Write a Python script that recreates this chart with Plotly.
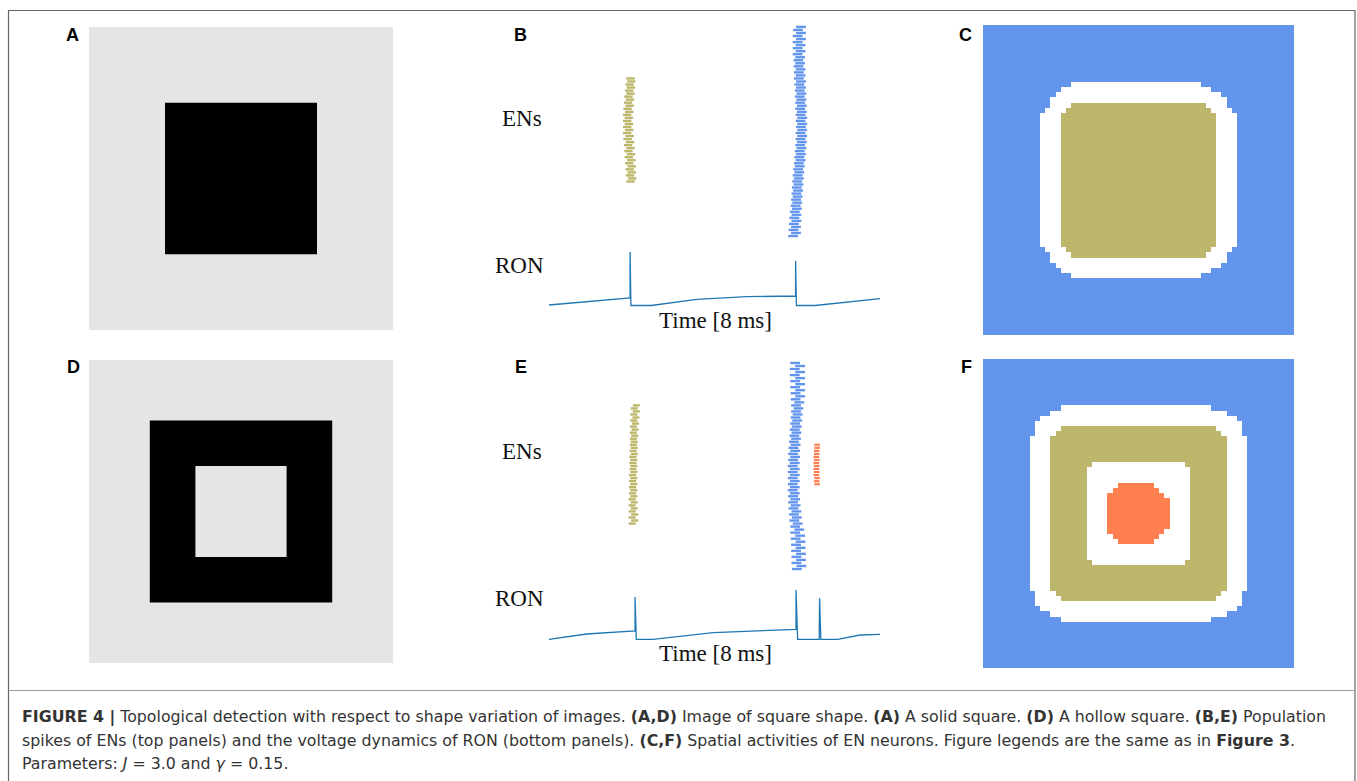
import plotly.graph_objects as go

W, H = 1357, 781

# ---------------- data ----------------
# Panels A / D : binary images in image units (0-100)
image_a_square = [25, 75]
image_d_outer = [20, 80]
image_d_inner = [35, 65]

# Panel B : EN spike raster (time in ms, one entry per neuron index)
olive_b_first = 18
olive_b_times = [1.97, 2.01, 1.96, 2.00, 1.95, 2.00, 1.94, 1.99, 1.93, 1.98,
                 1.92, 1.97, 1.91, 1.96, 1.90, 1.95, 1.89, 1.94, 1.89, 1.93,
                 1.89, 1.93, 1.89, 1.94, 1.90, 1.95, 1.91, 1.96, 1.92, 1.97,
                 1.94, 1.98, 1.95, 1.99, 1.97]
blue_b_first = 0
blue_b_times = [5.90, 5.97, 5.91, 5.97, 5.92, 5.98, 5.93, 5.98, 5.94, 5.99,
                5.96, 6.00, 5.97, 6.01, 5.98, 6.02, 5.99, 6.03, 6.00, 6.04,
                6.01, 6.05, 6.02, 6.06, 6.04, 6.08, 6.05, 6.09, 6.06, 6.10,
                6.07, 6.11, 6.08, 6.12, 6.08, 6.12, 6.09, 6.12, 6.08, 6.12,
                6.08, 6.11, 6.07, 6.11, 6.07, 6.10, 6.06, 6.10, 6.06, 6.09,
                6.05, 6.09, 6.04, 6.08, 6.04, 6.08, 6.03, 6.07, 6.03, 6.07,
                6.01, 6.08, 6.01, 6.08, 6.01, 6.09, 6.01, 6.09, 6.02, 6.09]

# Panel B : RON voltage (arbitrary units)
ron_b_t = [0.00, 1.00, 1.96, 1.96, 1.98, 2.47, 3.57, 4.78, 5.96, 5.96, 5.98, 6.43, 8.00]
ron_b_v = [1.0, 4.5, 8.0, 54.0, 0.5, 0.5, 6.7, 9.3, 10.0, 45.0, 0.5, 0.5, 7.3]

# Panel E : EN spike raster
olive_e_first = 15
olive_e_times = [2.01, 2.07, 2.01, 2.07, 2.01, 2.06, 2.01, 2.06, 2.01, 2.05,
                 2.02, 2.05, 2.02, 2.05, 2.02, 2.05, 2.02, 2.05, 2.03, 2.05,
                 2.03, 2.05, 2.03, 2.06, 2.03, 2.06, 2.04, 2.06, 2.04, 2.07,
                 2.04, 2.08, 2.04, 2.09, 2.05, 2.10, 2.05, 2.11, 2.06, 2.11]
blue_e_first = 0
blue_e_times = [5.99, 6.10, 5.98, 6.09, 5.98, 6.09, 5.97, 6.08, 5.97, 6.08,
                5.96, 6.07, 5.95, 6.05, 5.95, 6.01, 5.93, 5.99, 5.92, 5.98,
                5.91, 5.96, 5.90, 5.95, 5.90, 5.94, 5.89, 5.94, 5.89, 5.94,
                5.89, 5.94, 5.89, 5.94, 5.89, 5.94, 5.90, 5.95, 5.90, 5.95,
                5.91, 5.96, 5.92, 5.97, 5.93, 5.98, 5.94, 5.99, 5.95, 6.00,
                5.96, 6.01, 5.97, 6.03, 5.97, 6.05, 5.96, 6.07, 5.96, 6.07,
                5.95, 6.07, 5.95, 6.07, 5.94, 6.07, 5.94, 6.07, 5.95]
coral_e_first = 28
coral_e_times = [6.48, 6.47, 6.48, 6.46, 6.47, 6.46, 6.47, 6.46, 6.47, 6.46,
                 6.47, 6.47, 6.48, 6.48]

# Panel E : RON voltage
ron_e_t = [0.00, 0.91, 2.08, 2.08, 2.11, 2.51, 3.97, 5.97, 5.97, 6.01, 6.53,
           6.54, 6.57, 6.98, 7.52, 8.00]
ron_e_v = [0.7, 6.0, 9.0, 43.0, 0.7, 0.7, 7.3, 10.7, 50.0, 0.7, 0.7, 41.7,
           0.7, 0.7, 5.0, 5.7]

# Panels C / F : spatial activity maps on a 60 x 60 grid
grid_n = 60
# box = [row0, row1, col0, col1]; insets = corner cut per row from the edge
c_white_box = [11, 48, 11, 48]
c_white_left = [6, 4, 3, 2, 2, 1]
c_white_right = [7, 5, 3, 2, 2, 1]
c_olive_box = [15, 44, 15, 44]
c_olive_left = [2, 1]
c_olive_right = [2, 1]

f_white_box = [9, 50, 9, 50]
f_white_left = [6, 4, 2, 1, 1, 1]
f_white_right = [7, 4, 2, 1, 1, 1]
f_olive_box = [13, 46, 13, 46]
f_olive_left = [2, 1]
f_olive_right = [2, 1]
f_inner_box = [20, 39, 20, 39]
f_inner_left = [1]
f_inner_right = [1]
f_coral_box = [24, 35, 24, 35]
f_coral_left = [2, 1]
f_coral_right = [3, 2, 1]

# colours
BLUE = "#6495ED"
OLIVE = "#BDB76B"
CORAL = "#FF7F50"
WHITE = "#FFFFFF"
GRAY = "#E5E5E5"
RON_COLOR = "#1f77b4"


# ---------------- helpers ----------------
def fx(px):
    return px / W


def fy(py):
    return 1 - py / H


def paint(z, box, left, right, val):
    r0, r1, c0, c1 = box
    n = r1 - r0 + 1
    for k in range(n):
        d = min(k, n - 1 - k)
        li = left[d] if d < len(left) else 0
        ri = right[d] if d < len(right) else 0
        for c in range(c0 + li, c1 - ri + 1):
            z[r0 + k][c] = val


def blank():
    return [[0] * grid_n for _ in range(grid_n)]


z_c = blank()
paint(z_c, c_white_box, c_white_left, c_white_right, 1)
paint(z_c, c_olive_box, c_olive_left, c_olive_right, 2)

z_f = blank()
paint(z_f, f_white_box, f_white_left, f_white_right, 1)
paint(z_f, f_olive_box, f_olive_left, f_olive_right, 2)
paint(z_f, f_inner_box, f_inner_left, f_inner_right, 1)
paint(z_f, f_coral_box, f_coral_left, f_coral_right, 3)

cscale = [[0.0, BLUE], [1 / 3, WHITE], [2 / 3, OLIVE], [1.0, CORAL]]

fig = go.Figure()
layout_axes = {}


def add_axes(k, xpx, ypx, xr, yr):
    xa = "xaxis" if k == 1 else f"xaxis{k}"
    ya = "yaxis" if k == 1 else f"yaxis{k}"
    layout_axes[xa] = dict(domain=[fx(xpx[0]), fx(xpx[1])], range=xr, visible=False,
                           anchor=("y" if k == 1 else f"y{k}"), fixedrange=True)
    layout_axes[ya] = dict(domain=[fy(ypx[1]), fy(ypx[0])], range=yr, visible=False,
                           anchor=("x" if k == 1 else f"x{k}"), fixedrange=True)


# time axis mapping (ms -> px: 549 + 41.375 t)
t_range = [(540 - 549) / 41.375, (890 - 549) / 41.375]

# A
add_axes(1, [89, 393], [27, 330], [0, 100], [100, 0])
# B raster
add_axes(2, [540, 890], [20, 242], t_range, [(236 - 242) / 3.03, (236 - 20) / 3.03])
# B RON
add_axes(3, [540, 890], [245, 310], t_range, [306 - 310, 306 - 245])
# C
add_axes(4, [983, 1294], [25, 335], [-0.5, grid_n - 0.5], [grid_n - 0.5, -0.5])
# D
add_axes(5, [89, 393], [360, 663], [0, 100], [100, 0])
# E raster
add_axes(6, [540, 890], [355, 575], t_range, [(569 - 575) / 3.03, (569 - 355) / 3.03])
# E RON
add_axes(7, [540, 890], [585, 645], t_range, [640 - 645, 640 - 585])
# F
add_axes(8, [983, 1294], [359, 668], [-0.5, grid_n - 0.5], [grid_n - 0.5, -0.5])

shapes = []


def rect(axk, x0, x1, y0, y1, color):
    xr = "x" if axk == 1 else f"x{axk}"
    yr = "y" if axk == 1 else f"y{axk}"
    shapes.append(dict(type="rect", xref=xr, yref=yr, x0=x0, x1=x1, y0=y0, y1=y1,
                       fillcolor=color, line=dict(width=0), layer="below"))


# A
rect(1, 0, 100, 0, 100, GRAY)
rect(1, image_a_square[0], image_a_square[1], image_a_square[0], image_a_square[1], "#000000")
# D
rect(5, 0, 100, 0, 100, GRAY)
rect(5, image_d_outer[0], image_d_outer[1], image_d_outer[0], image_d_outer[1], "#000000")
rect(5, image_d_inner[0], image_d_inner[1], image_d_inner[0], image_d_inner[1], GRAY)


def raster(axk, first, times, color, size, lw):
    fig.add_trace(go.Scatter(
        x=times, y=list(range(first, first + len(times))), mode="markers",
        marker=dict(symbol="line-ew", size=size, line=dict(width=lw, color=color)),
        xaxis=f"x{axk}", yaxis=f"y{axk}", showlegend=False, hoverinfo="skip"))


raster(2, olive_b_first, olive_b_times, OLIVE, 6, 2.4)
raster(2, blue_b_first, blue_b_times, BLUE, 7, 2.4)
raster(6, olive_e_first, olive_e_times, OLIVE, 5, 2.4)
raster(6, blue_e_first, blue_e_times, BLUE, 7, 2.4)
raster(6, coral_e_first, coral_e_times, CORAL, 4, 2.2)

fig.add_trace(go.Scatter(x=ron_b_t, y=ron_b_v, mode="lines",
                         line=dict(color=RON_COLOR, width=1.3),
                         xaxis="x3", yaxis="y3", showlegend=False, hoverinfo="skip"))
fig.add_trace(go.Scatter(x=ron_e_t, y=ron_e_v, mode="lines",
                         line=dict(color=RON_COLOR, width=1.3),
                         xaxis="x7", yaxis="y7", showlegend=False, hoverinfo="skip"))

fig.add_trace(go.Heatmap(z=z_c, colorscale=cscale, zmin=0, zmax=3, showscale=False,
                         xaxis="x4", yaxis="y4", hoverinfo="skip"))
fig.add_trace(go.Heatmap(z=z_f, colorscale=cscale, zmin=0, zmax=3, showscale=False,
                         xaxis="x8", yaxis="y8", hoverinfo="skip"))

# frame and caption separator
shapes.append(dict(type="rect", xref="paper", yref="paper", x0=fx(8.5), x1=fx(1355),
                   y0=-0.05, y1=fy(10.5), line=dict(color="#666666", width=1.2),
                   fillcolor="rgba(0,0,0,0)"))
shapes.append(dict(type="line", xref="paper", yref="paper", x0=fx(8.5), x1=fx(1355),
                   y0=fy(690.5), y1=fy(690.5), line=dict(color="#9a9a9a", width=1)))

annotations = []


def label(text, xpx, ypx, size, family, color="#000000", xanchor="center"):
    annotations.append(dict(text=text, x=fx(xpx), y=fy(ypx), xref="paper", yref="paper",
                            showarrow=False, xanchor=xanchor, yanchor="middle",
                            font=dict(size=size, family=family, color=color)))


SANS = "Liberation Sans, Arial, sans-serif"
CAPF = "DejaVu Sans, sans-serif"
SERIF = "Liberation Serif, DejaVu Serif, serif"
for t, x, y in [("A", 72.5, 34.5), ("B", 520, 34.5), ("C", 965, 34.5),
                ("D", 73, 366.5), ("E", 521, 366.5), ("F", 966, 366.5)]:
    label(f"<b>{t}</b>", x, y, 18, SANS)

for yo in (0, 333):
    label("ENs", 522, 118 + yo, 23, SERIF, "#111111")
    label("RON", 519, 265 + yo, 23, SERIF, "#111111")
    label("Time [8 ms]", 715, 320 + yo, 23, SERIF, "#111111")

cap1 = ("<b>FIGURE 4 |</b> Topological detection with respect to shape variation of images. "
        "<b>(A,D)</b> Image of square shape. <b>(A)</b> A solid square. <b>(D)</b> A hollow square. "
        "<b>(B,E)</b> Population")
cap2 = ("spikes of ENs (top panels) and the voltage dynamics of RON (bottom panels). "
        "<b>(C,F)</b> Spatial activities of EN neurons. Figure legends are the same as in "
        "<b>Figure 3</b>.")
cap3 = "Parameters: <i>J</i> = 3.0 and <i>γ</i> = 0.15."
label(cap1, 20, 717, 15.8, CAPF, "#333333", "left")
label(cap2, 20, 740, 15.8, CAPF, "#333333", "left")
label(cap3, 20, 763, 15.8, CAPF, "#333333", "left")

fig.update_layout(width=W, height=H, margin=dict(l=0, r=0, t=0, b=0),
                  paper_bgcolor="white", plot_bgcolor="rgba(0,0,0,0)",
                  shapes=shapes, annotations=annotations, **layout_axes)

fig.write_html("out.html", config={"displayModeBar": False},
               post_script="document.body.style.margin='0px';")
